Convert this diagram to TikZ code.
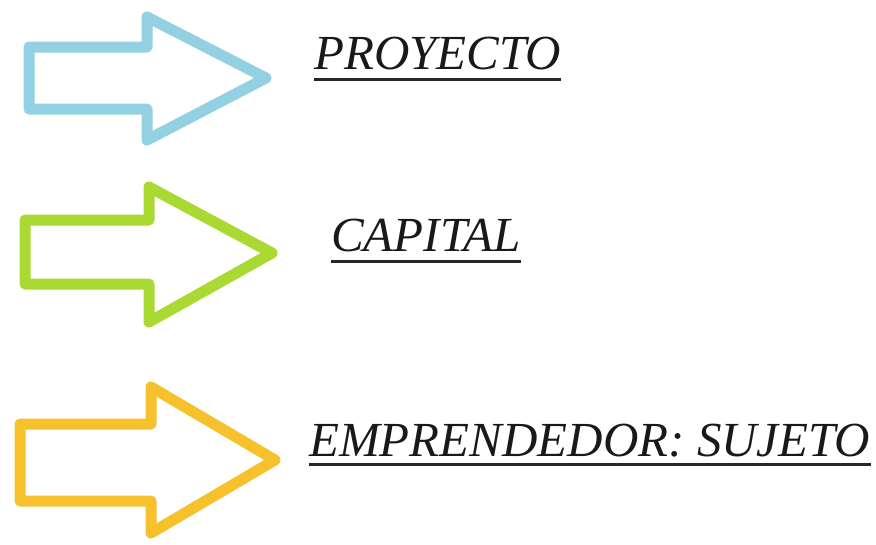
\documentclass[tikz,border=0pt]{standalone}
\usepackage{fontspec}
\setmainfont{Liberation Serif}
\definecolor{cblue}{HTML}{92D0E2}
\definecolor{cgreen}{HTML}{A9D932}
\definecolor{cyellow}{HTML}{F6C12C}
\tikzset{
  arrowshape/.style={line width=11pt, line join=round, fill=white},
  label/.style={anchor=base west, inner sep=0pt, font=\fontsize{49}{56}\selectfont\itshape, text=black!90},
  uline/.style={line width=3pt, black!85}
}
\begin{document}
\begin{tikzpicture}[x=1pt,y=-1pt]
\useasboundingbox (0,0) rectangle (876,544);
% blue arrow
\draw[arrowshape, draw=cblue] (29,47) -- (147,47) -- (147,17) -- (266,78) -- (147,140) -- (147,109) -- (29,109) -- cycle;
% green arrow
\draw[arrowshape, draw=cgreen] (25,220) -- (149,220) -- (149,187) -- (272,253) -- (149,322) -- (149,284) -- (25,284) -- cycle;
% yellow arrow
\draw[arrowshape, draw=cyellow] (20,424) -- (151,424) -- (151,387) -- (275,460) -- (151,533) -- (151,501) -- (20,501) -- cycle;
% labels
\node[label] (t1) at (314,69) {PROYECTO};
\node[label] (t2) at (331,251) {CAPITAL};
\node[label] (t3) at (309,456) {EMPRENDEDOR: SUJETO};
\draw[uline] ([yshift=-10pt]t1.base west) -- ([yshift=-10pt]t1.base east);
\draw[uline] ([yshift=-10pt]t2.base west) -- ([yshift=-10pt]t2.base east);
\draw[uline] ([yshift=-8pt]t3.base west) -- ([yshift=-8pt]t3.base east);
\end{tikzpicture}
\end{document}
